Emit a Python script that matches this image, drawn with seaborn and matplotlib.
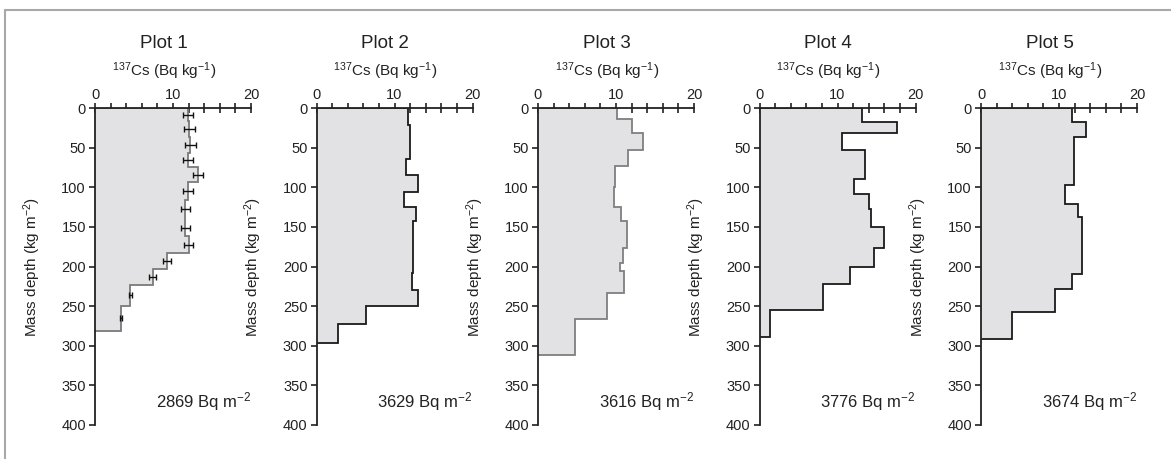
import numpy as np
import matplotlib
matplotlib.use('Agg')
import matplotlib.pyplot as plt
from matplotlib.lines import Line2D
from matplotlib.ticker import MultipleLocator
import seaborn as sns

# ------------------------------------------------
# data: layer boundaries (mass depth, kg m-2) and 137Cs activity per layer
# ------------------------------------------------
plot_names = ['Plot 1', 'Plot 2', 'Plot 3', 'Plot 4', 'Plot 5']
inventories = [2869, 3629, 3616, 3776, 3674]

depth_1 = [0, 17, 37, 57, 75, 94, 116, 140, 162, 183, 203, 223, 250, 281]
cs_1 = [11.9, 12.1, 12.2, 11.9, 13.2, 11.9, 11.6, 11.6, 12.0, 9.2, 7.4, 4.5, 3.3]
err_1 = [0.6, 0.7, 0.7, 0.6, 0.7, 0.6, 0.6, 0.6, 0.6, 0.5, 0.45, 0.2, 0.1]

depth_2 = [0, 21, 64, 84, 106, 125, 143, 208, 230, 250, 272, 296]
cs_2 = [11.7, 12.0, 11.5, 13.0, 11.2, 12.8, 12.4, 12.2, 13.0, 6.4, 2.7]

depth_3 = [0, 14, 32, 53, 73, 100, 125, 143, 177, 196, 206, 233, 266, 312]
cs_3 = [10.1, 12.0, 13.4, 11.6, 9.9, 9.7, 10.6, 11.4, 10.9, 10.5, 11.0, 8.9, 4.7]

depth_4 = [0, 18, 32, 53, 90, 109, 127, 150, 177, 201, 222, 255, 289]
cs_4 = [13.1, 17.6, 10.6, 13.5, 12.1, 14.1, 14.3, 15.9, 14.7, 11.6, 8.1, 1.4]

depth_5 = [0, 18, 36, 97, 121, 137, 209, 229, 257, 292]
cs_5 = [11.7, 13.4, 11.9, 10.8, 12.4, 12.9, 11.7, 9.5, 4.0]

depths = [depth_1, depth_2, depth_3, depth_4, depth_5]
values = [cs_1, cs_2, cs_3, cs_4, cs_5]

# ------------------------------------------------
# style
# ------------------------------------------------
sns.set_theme(style='ticks')
plt.rcParams['font.family'] = ['Liberation Sans', 'DejaVu Sans']
plt.rcParams['mathtext.default'] = 'regular'
plt.rcParams['text.color'] = '#222222'
plt.rcParams['axes.labelcolor'] = '#222222'
plt.rcParams['xtick.color'] = '#222222'
plt.rcParams['ytick.color'] = '#222222'

line_cols = ['#7a7a7a', '#1a1a1a', '#7f7f7f', '#1a1a1a', '#1a1a1a']
fill_col = '#e2e2e4'

fig = plt.figure(figsize=(11.71, 4.59), dpi=100)
W, H = 1171, 459

for i in range(5):
    left = 95 + i * 221.5
    ax = fig.add_axes([left / W, 1 - 425 / H, 156 / W, 317 / H])

    ax.stairs(values[i], depths[i], orientation='horizontal', baseline=0,
              fill=True, facecolor=fill_col, edgecolor=line_cols[i],
              linewidth=1.3, zorder=2)

    if i == 0:
        mids = (np.array(depth_1[:-1]) + np.array(depth_1[1:])) / 2
        ax.errorbar(cs_1, mids, xerr=err_1, fmt='none', ecolor='#111111',
                    elinewidth=1.0, capsize=2.2, capthick=1.0, zorder=3)

    # despine first: it moves the x ticks to the top itself
    sns.despine(ax=ax, top=False, right=True, bottom=True, left=False)
    ax.set_xlim(0, 20)
    ax.set_ylim(400, 0)
    ax.xaxis.tick_top()
    ax.set_xticks([0, 10, 20])
    ax.xaxis.set_minor_locator(MultipleLocator(2))
    ax.set_yticks(np.arange(0, 401, 50))
    ax.tick_params(axis='x', which='both', direction='inout', length=7,
                   width=1.2, labelsize=10.5, pad=1, top=True, bottom=False)
    ax.tick_params(axis='y', direction='out', length=4.5, width=1.2,
                   labelsize=10.5, pad=2)
    for s in ['top', 'left']:
        ax.spines[s].set_linewidth(1.3)
        ax.spines[s].set_color('#222222')
    ax.set_facecolor('none')

    ax.set_ylabel('Mass depth (kg m$^{-2}$)', fontsize=11)
    ax.yaxis.set_label_coords(-0.335, 0.5)

    ax.text(0.44, 1.205, plot_names[i], transform=ax.transAxes,
            ha='center', va='center', fontsize=13.5)
    ax.text(0.44, 1.115, '$^{137}$Cs (Bq kg$^{-1}$)', transform=ax.transAxes,
            ha='center', va='center', fontsize=11)
    ax.text(1.0, 0.075, f'{inventories[i]} Bq m$^{{-2}}$', transform=ax.transAxes,
            ha='right', va='center', fontsize=12)

# thin grey frame at top and left of the original figure
fig.add_artist(Line2D([5 / W, 1], [1 - 10 / H, 1 - 10 / H],
                      color='#a8a8a8', linewidth=1.5, transform=fig.transFigure))
fig.add_artist(Line2D([5 / W, 5 / W], [0, 1 - 10 / H],
                      color='#a8a8a8', linewidth=1.5, transform=fig.transFigure))

fig.savefig('out.png', dpi=100)
